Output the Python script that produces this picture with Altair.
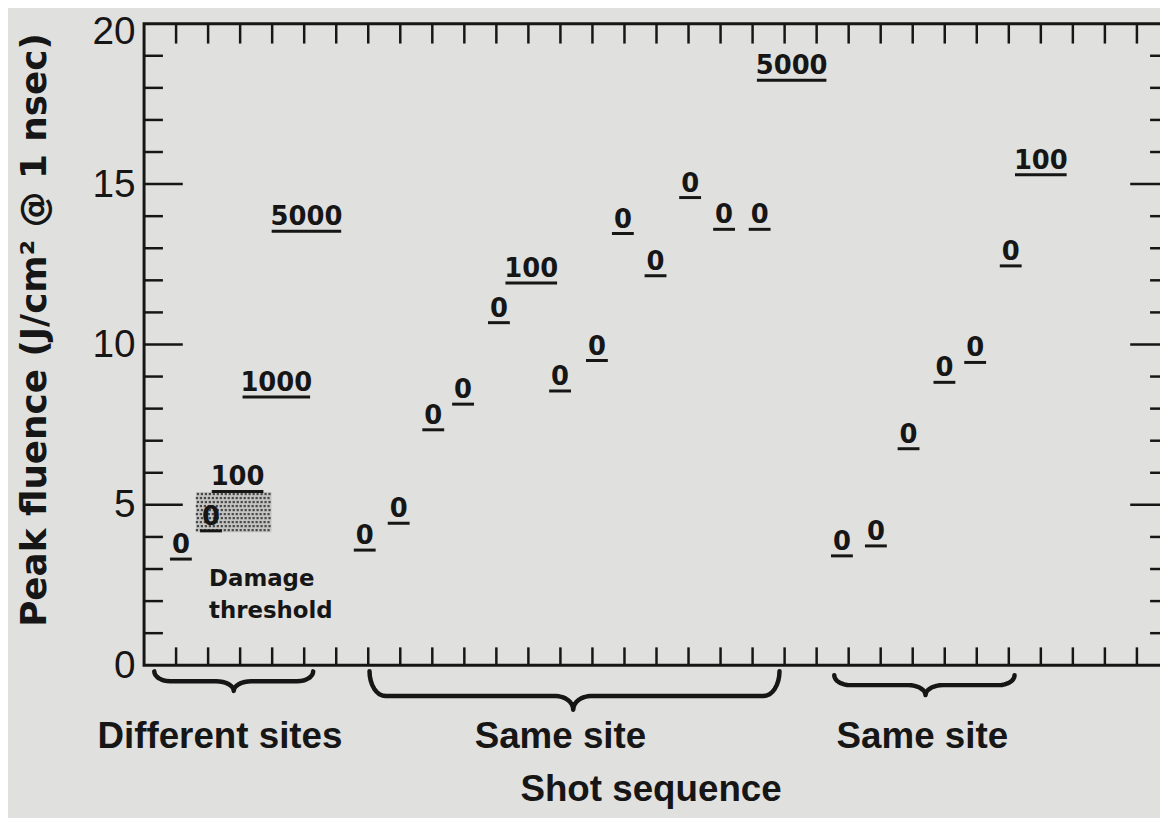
import math
import altair as alt
import pandas as pd

# ---- data ----
shot_x = [1.15, 2.09, 2.92, 4.13, 5.07,
          6.89, 7.95, 9.03, 9.96, 11.08, 12.09, 12.99, 14.14, 14.95, 15.97, 17.05, 18.11, 19.22, 20.22,
          21.79, 22.85, 23.87, 24.99, 25.95, 27.06, 28.0]
shot_fluence = [3.31, 4.19, 5.42, 8.36, 13.53,
                3.59, 4.43, 7.34, 8.14, 10.68, 11.92, 8.55, 9.50, 13.46, 12.14, 14.58, 13.59, 13.59, 18.24,
                3.41, 3.72, 6.75, 8.82, 9.44, 12.45, 15.29]
shot_label = ["0", "0", "100", "1000", "5000",
              "0", "0", "0", "0", "0", "100", "0", "0", "0", "0", "0", "0", "0", "5000",
              "0", "0", "0", "0", "0", "0", "100"]

threshold_x = [1.62, 3.98]
threshold_y = [4.15, 5.40]
note_text = ["Damage", "threshold"]
note_x = [2.03, 2.03]
note_y = [2.48, 1.46]

group_label = ["Different sites", "Same site", "Same site"]
group_center = [2.37, 13.0, 24.3]
brace_start = [0.32, 7.04, 21.55]
brace_end = [5.28, 19.84, 27.18]
brace_tip = [2.80, 13.40, 24.40]
brace_top = [-0.19, -0.19, -0.31]
brace_body = [-0.50, -0.96, -0.62]
brace_point = [-0.80, -1.39, -0.93]

x_ticks = list(range(1, 32))
y_minor = [v for v in range(1, 20) if v % 5 != 0]
y_major = [5, 10, 15]
y_labels = [0, 5, 10, 15, 20]

# ---- styling ----
INK = "#161616"
BG = "#e0e0de"
W, H = 1032, 646
underline_w = {"0": 22, "100": 52, "1000": 68, "5000": 70}

xs = alt.Scale(domain=[0, 32], nice=False, zero=False)
ys = alt.Scale(domain=[0, 20], nice=False, zero=False)

shots = pd.DataFrame({"x": shot_x, "y": shot_fluence, "label": shot_label})
shots["uw"] = shots["label"].map(underline_w)

# brace outlines built from the spans
rows = []
for i in range(len(brace_start)):
    x0, x1, xm = brace_start[i], brace_end[i], brace_tip[i]
    yt, yb, yp = brace_top[i], brace_body[i], brace_point[i]
    r, r2 = 0.5, 0.55
    n = 8
    pts = []
    for j in range(n + 1):
        t = (math.pi / 2) * j / n
        pts.append((x0 + r * (1 - math.cos(t)), yt + (yb - yt) * math.sin(t)))
    for j in range(n + 1):
        t = (math.pi / 2) * j / n
        pts.append((xm - r2 + r2 * math.sin(t), yb + (yp - yb) * (1 - math.cos(t))))
    for j in range(n, -1, -1):
        t = (math.pi / 2) * j / n
        pts.append((xm + r2 - r2 * math.sin(t), yb + (yp - yb) * (1 - math.cos(t))))
    for j in range(n, -1, -1):
        t = (math.pi / 2) * j / n
        pts.append((x1 - r * (1 - math.cos(t)), yt + (yb - yt) * math.sin(t)))
    for k, (px, py) in enumerate(pts):
        rows.append({"bid": i, "bo": k, "bx": px, "by": py})
braces = pd.DataFrame(rows)

# stipple texture for the damage-threshold box (decoration only)
dots = []
step_x = (threshold_x[1] - threshold_x[0]) / 19
step_y = (threshold_y[1] - threshold_y[0]) / 10
for row in range(10):
    for col in range(19):
        off = 0.5 if row % 2 else 0.0
        cx = threshold_x[0] + (col + 0.25 + off * 0.5) * step_x
        cy = threshold_y[0] + (row + 0.5) * step_y
        if cx < threshold_x[1]:
            dots.append({"x": cx, "y": cy})
dots = pd.DataFrame(dots)

X = lambda f: alt.X(f, scale=xs)
Y = lambda f: alt.Y(f, scale=ys)

# ---- layers ----
base_axes = alt.Chart(pd.DataFrame({"v": y_labels})).mark_point(opacity=0).encode(
    x=alt.X("v:Q", scale=xs, axis=alt.Axis(
        title="Shot sequence", labels=False, ticks=False, domain=False, grid=False,
        titleFont="Liberation Sans", titleFontSize=37, titleFontWeight="bold", titleColor=INK,
        titleBaseline="alphabetic", titleY=136, titleX=510)),
    y=alt.Y("v:Q", scale=ys, axis=alt.Axis(
        title="Peak fluence (J/cm² @ 1 nsec)", values=y_labels, ticks=False,
        domain=False, grid=False, labelFont="Liberation Sans", labelFontSize=39,
        labelColor=INK, labelPadding=9,
        labelOffset={"condition": {"test": "datum.value == 20", "value": 8}, "value": 0},
        titleFont="DejaVu Sans", titleFontSize=36, titleFontWeight="bold", titleColor=INK,
        titleBaseline="alphabetic", titleAngle=270, titleX=-99, titleY=308)))

thr = alt.Chart(pd.DataFrame({"x0": [threshold_x[0]], "x1": [threshold_x[1]],
                              "y0": [threshold_y[0]], "y1": [threshold_y[1]]})).mark_rect(
    fill="#c4c4c2", opacity=1).encode(x=X("x0:Q"), x2="x1:Q", y=Y("y0:Q"), y2="y1:Q")
stipple = alt.Chart(dots).mark_square(size=5, color="#333333", opacity=0.85).encode(
    x=X("x:Q"), y=Y("y:Q"))

xt = pd.DataFrame({"t": x_ticks})
top_ticks = alt.Chart(xt).mark_rule(color=INK, strokeWidth=2.5).encode(
    x=X("t:Q"), y=alt.value(0), y2=alt.value(20))
bot_ticks = alt.Chart(xt).mark_rule(color=INK, strokeWidth=2.5).encode(
    x=X("t:Q"), y=alt.value(H), y2=alt.value(H - 18))

ymin = pd.DataFrame({"v": y_minor})
ymaj = pd.DataFrame({"v": y_major})
left_minor = alt.Chart(ymin).mark_rule(color=INK, strokeWidth=2.5).encode(
    y=Y("v:Q"), x=alt.value(0), x2=alt.value(19))
left_major = alt.Chart(ymaj).mark_rule(color=INK, strokeWidth=2.5).encode(
    y=Y("v:Q"), x=alt.value(0), x2=alt.value(39))
right_minor = alt.Chart(ymin).mark_rule(color=INK, strokeWidth=2.5).encode(
    y=Y("v:Q"), x=alt.value(W), x2=alt.value(W - 19))
right_major = alt.Chart(ymaj).mark_rule(color=INK, strokeWidth=2.5).encode(
    y=Y("v:Q"), x=alt.value(W), x2=alt.value(W - 39))

underlines = alt.Chart(shots).mark_tick(orient="horizontal", thickness=3, color=INK, opacity=1).encode(
    x=X("x:Q"), y=Y("y:Q"), size=alt.Size("uw:Q", scale=None, legend=None))
labels = alt.Chart(shots).mark_text(font="DejaVu Sans", fontWeight="bold", fontSize=26,
                                    baseline="alphabetic", dy=-6, color=INK).encode(
    x=X("x:Q"), y=Y("y:Q"), text="label:N")

note = alt.Chart(pd.DataFrame({"x": note_x, "y": note_y, "t": note_text})).mark_text(
    font="DejaVu Sans", fontWeight="bold", fontSize=23, align="left", baseline="alphabetic",
    color=INK).encode(x=X("x:Q"), y=Y("y:Q"), text="t:N")

brace_lines = alt.Chart(braces).mark_line(color=INK, strokeWidth=4.5, strokeCap="round",
                                          strokeJoin="round").encode(
    x=X("bx:Q"), y=Y("by:Q"), detail="bid:N", order="bo:Q")

groups = alt.Chart(pd.DataFrame({"x": group_center, "t": group_label})).mark_text(
    font="Liberation Sans", fontWeight="bold", fontSize=37, baseline="alphabetic", color=INK).encode(
    x=X("x:Q"), y=alt.value(H + 83), text="t:N")

chart = alt.layer(
    base_axes, thr, stipple, top_ticks, bot_ticks, left_minor, left_major, right_minor, right_major,
    underlines, labels, note, brace_lines, groups
).properties(
    width=W, height=H,
    padding={"left": 137, "top": 13, "right": -9, "bottom": 151},
    autosize=alt.AutoSizeParams(type="none"),
    background=BG,
).configure_view(stroke=INK, strokeWidth=3)

chart.save("out.html", embed_options={"renderer": "svg", "actions": False})
